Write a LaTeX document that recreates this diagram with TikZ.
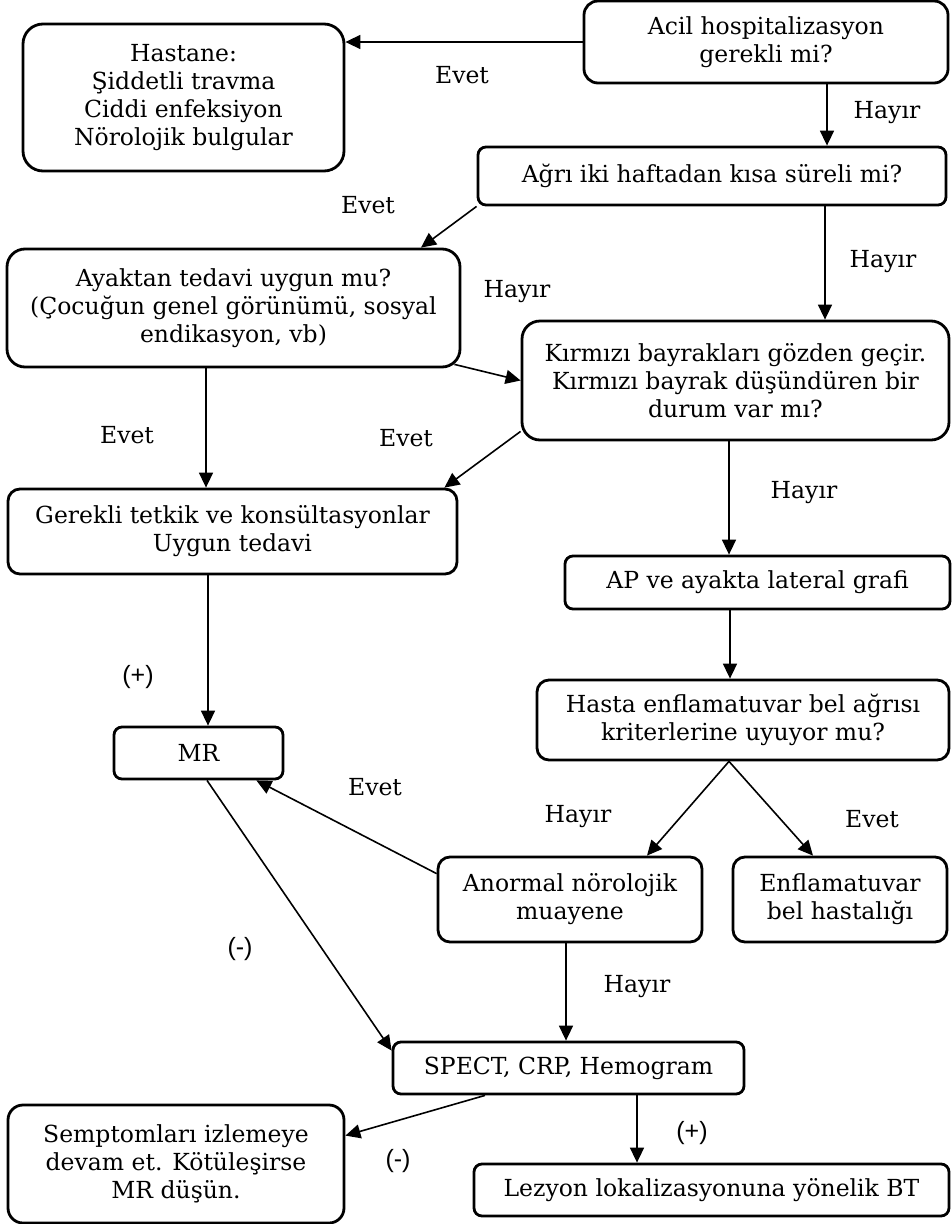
\documentclass[tikz,border=0pt]{standalone}
\usepackage{fontspec}
\setmainfont{DejaVu Serif}
\newfontfamily\lblsans{Liberation Sans}
\usetikzlibrary{arrows.meta}
\begin{document}
\begin{tikzpicture}[x=1pt,y=-1pt,
 box/.style={draw, line width=2.8pt, align=center, inner sep=0pt, font=\fontsize{23.5}{28}\selectfont},
 arr/.style={line width=1.6pt, -{Triangle[length=15pt,width=14pt]}},
 lbl/.style={font=\fontsize{23.5}{28}\selectfont, inner sep=0pt},
 sgn/.style={font=\lblsans\fontsize{25}{30}\selectfont, inner sep=0pt}]
\useasboundingbox[fill=white] (0,0) rectangle (951,1224);

\node[box, minimum width=321pt, minimum height=147pt, rounded corners=20pt] (hastane) at (183.5,97.5) {Hastane:\\Şiddetli travma\\Ciddi enfeksiyon\\Nörolojik bulgular};
\node[box, minimum width=364pt, minimum height=82pt, rounded corners=14pt] (acil) at (766,42) {Acil hospitalizasyon\\gerekli mi?};
\node[box, minimum width=468pt, minimum height=58pt, rounded corners=8pt] (agri) at (712,176) {Ağrı iki haftadan kısa süreli mi?};
\node[box, minimum width=453pt, minimum height=118pt, rounded corners=18pt] (ayaktan) at (233.5,308) {Ayaktan tedavi uygun mu?\\(Çocuğun genel görünümü, sosyal\\endikasyon, vb)};
\node[box, minimum width=427pt, minimum height=119pt, rounded corners=18pt] (kirmizi) at (735.5,380.5) {Kırmızı bayrakları gözden geçir.\\Kırmızı bayrak düşündüren bir\\durum var mı?};
\node[box, minimum width=449pt, minimum height=85pt, rounded corners=12pt] (gerekli) at (232.5,531.5) {Gerekli tetkik ve konsültasyonlar\\Uygun tedavi};
\node[box, minimum width=385pt, minimum height=53pt, rounded corners=8pt] (ap) at (757.5,582.5) {AP ve ayakta lateral grafi};
\node[box, minimum width=412pt, minimum height=80pt, rounded corners=12pt] (hasta) at (743,720) {Hasta enflamatuvar bel ağrısı\\kriterlerine uyuyor mu?};
\node[box, minimum width=169pt, minimum height=52pt, rounded corners=8pt] (mr) at (198.5,753) {MR};
\node[box, minimum width=264pt, minimum height=85pt, rounded corners=12pt] (anormal) at (570,899.5) {Anormal nörolojik\\muayene};
\node[box, minimum width=214pt, minimum height=85pt, rounded corners=12pt] (enflam) at (840,899.5) {Enflamatuvar\\bel hastalığı};
\node[box, minimum width=351pt, minimum height=52pt, rounded corners=8pt] (spect) at (568.5,1068) {SPECT, CRP, Hemogram};
\node[box, minimum width=336pt, minimum height=118pt, rounded corners=15pt] (semptom) at (176,1164) {Semptomları izlemeye\\devam et. Kötüleşirse\\MR düşün.};
\node[box, minimum width=475pt, minimum height=52pt, rounded corners=8pt] (lezyon) at (711.5,1190) {Lezyon lokalizasyonuna yönelik BT};

% connectors
\draw[arr] (acil.west) -- (acil.west -| hastane.east);
\draw[arr] ([xshift=61pt]acil.south) -- ([xshift=61pt]acil.south |- agri.north);
\draw[arr] (agri.south west) -- ([xshift=187.5pt]ayaktan.north);
\draw[arr] ([xshift=113pt]agri.south) -- ([xshift=113pt]agri.south |- kirmizi.north);
\draw[arr] ([shift={(-7pt,4pt)}]ayaktan.south east) -- (kirmizi.west);
\draw[arr] ([xshift=-27.5pt]ayaktan.south) -- ([xshift=-27.5pt]ayaktan.south |- gerekli.north);
\draw[arr] ([yshift=10pt]kirmizi.south west) -- ([xshift=-14pt]gerekli.north east);
\draw[arr] ([xshift=-6.5pt]kirmizi.south) -- ([xshift=-6.5pt]kirmizi.south |- ap.north);
\draw[arr] ([xshift=-27.5pt]ap.south) -- ([xshift=-27.5pt]ap.south |- hasta.north);
\draw[arr] ([xshift=-24.5pt]gerekli.south) -- ([xshift=-24.5pt]gerekli.south |- mr.north);
\draw[arr] ([xshift=-14pt]hasta.south) -- ([xshift=77pt]anormal.north);
\draw[arr] ([xshift=-14pt]hasta.south) -- ([xshift=-27pt]enflam.north);
\draw[arr] ([yshift=-18pt]anormal.north west) -- ([xshift=-28pt]mr.south east);
\draw[arr] ([xshift=8.5pt]mr.south) -- ([yshift=-10pt]spect.north west);
\draw[arr] ([xshift=-4pt]anormal.south) -- ([xshift=-4pt]anormal.south |- spect.north);
\draw[arr] ([xshift=-83.5pt]spect.south) -- ([yshift=-32pt]semptom.north east);
\draw[arr] ([xshift=68.5pt]spect.south) -- ([xshift=68.5pt]spect.south |- lezyon.north);

% labels
\node[lbl] (l1) at (462,75) {Evet};
\node[lbl] (l2) at (887,113) {Hayır};
\node[lbl] (l3) at (368,205) {Evet};
\node[lbl] (l4) at (883,262) {Hayır};
\node[lbl] (l5) at (517,292) {Hayır};
\node[lbl] (l6) at (127,435) {Evet};
\node[lbl] (l7) at (406,438) {Evet};
\node[lbl] (l8) at (804,493) {Hayır};
\node[sgn] (l9) at (138,677) {(+)};
\node[lbl] (l10) at (375,787) {Evet};
\node[lbl] (l11) at (578,817) {Hayır};
\node[lbl] (l12) at (872,819) {Evet};
\node[sgn] (l13) at (240,949) {(-)};
\node[lbl] (l14) at (637,987) {Hayır};
\node[sgn] (l15) at (692,1133) {(+)};
\node[sgn] (l16) at (398,1161) {(-)};
\end{tikzpicture}
\end{document}
